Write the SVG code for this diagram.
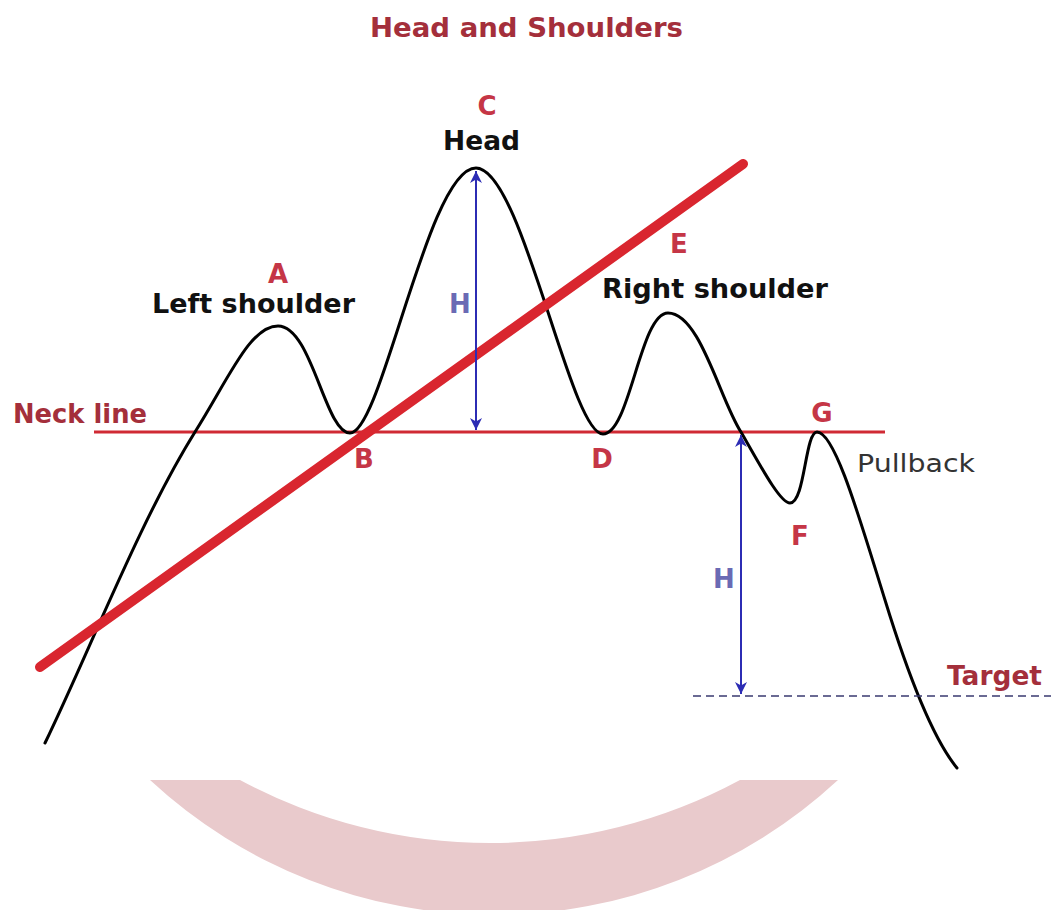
<svg xmlns="http://www.w3.org/2000/svg" width="1051" height="910" viewBox="0 0 1051 910">
<style>
.lbl{font-family:"DejaVu Sans","Liberation Sans",sans-serif;font-weight:bold;font-size:26px;fill:#c53646;text-anchor:middle}
.dark{font-family:"DejaVu Sans","Liberation Sans",sans-serif;font-weight:bold;font-size:26px;fill:#a42f3b}
.blk{font-family:"DejaVu Sans","Liberation Sans",sans-serif;font-weight:bold;font-size:27px;fill:#111}
.hh{font-family:"DejaVu Sans","Liberation Sans",sans-serif;font-weight:bold;font-size:26px;fill:#6a6ab4;text-anchor:middle}
.curve{fill:none;stroke:#000;stroke-width:3;stroke-linecap:round;stroke-linejoin:round}
.arrow{stroke:#2c2cb4;stroke-width:2;fill:none;marker-start:url(#ah);marker-end:url(#ah)}
</style>
<defs>
<marker id="ah" viewBox="0 0 10 10" refX="10" refY="5" markerWidth="6" markerHeight="6" markerUnits="strokeWidth" orient="auto-start-reverse">
<path d="M0,0 L10,5 L0,10 L3,5 Z" fill="#2c2cb4"/>
</marker>
</defs>
<rect width="1051" height="910" fill="#fff"/>
<g id="watermark">
<path d="M150,780 A506,506 0 0 0 838,780 L740,780 A527,527 0 0 1 240,780 Z" fill="#e9cacc"/>
</g>
<g id="title">
<text class="dark" x="370" y="37" font-size="24" textLength="313" lengthAdjust="spacingAndGlyphs">Head and Shoulders</text>
</g>
<g id="connectors">
<line id="neckline" x1="94" y1="432" x2="885" y2="432" stroke="#d02a34" stroke-width="3"/>
<path id="price" class="curve" d="M45,743 C90,650 140,520 195,432 C229,378 250,326 278,326 C312,326 325,433 350,433 C382,433 428,168 476,168 C522,168 570,434 603,434 C630,434 640,313 668,313 C700,313 720,400 741,432 C760,465 780,503 790,503 C805,503 805,432 817,432 C835,432 860,520 885,600 C905,665 930,735 957,768"/>
<line id="trend" x1="40" y1="667" x2="743" y2="164" stroke="#d9262f" stroke-width="10" stroke-linecap="round"/>
<line class="arrow" x1="476" y1="171" x2="476" y2="430"/>
<line class="arrow" x1="741" y1="435" x2="741" y2="694"/>
<line id="target-line" x1="693" y1="696" x2="1051" y2="696" stroke="#3a3a70" stroke-width="1.5" stroke-dasharray="8,5"/>
</g>
<g id="node-C"><text class="lbl" x="487" y="115">C</text><text class="blk" x="443" y="150" textLength="77" lengthAdjust="spacingAndGlyphs">Head</text></g>
<g id="node-A"><text class="lbl" x="278" y="283">A</text><text class="blk" x="152" y="313" textLength="203" lengthAdjust="spacingAndGlyphs">Left shoulder</text></g>
<g id="node-E"><text class="lbl" x="679" y="253">E</text><text class="blk" x="602" y="298" textLength="226" lengthAdjust="spacingAndGlyphs">Right shoulder</text></g>
<g id="node-H1"><text class="hh" x="460" y="313">H</text></g>
<g id="node-neck"><text class="dark" x="13" y="423" textLength="134" lengthAdjust="spacingAndGlyphs">Neck line</text></g>
<g id="node-B"><text class="lbl" x="364" y="468">B</text></g>
<g id="node-D"><text class="lbl" x="602" y="468">D</text></g>
<g id="node-G"><text class="lbl" x="822" y="422">G</text></g>
<g id="node-pullback"><text x="857" y="472" font-family="DejaVu Sans, Liberation Sans, sans-serif" font-size="25" fill="#333" textLength="118" lengthAdjust="spacingAndGlyphs">Pullback</text></g>
<g id="node-F"><text class="lbl" x="800" y="545">F</text></g>
<g id="node-H2"><text class="hh" x="724" y="588">H</text></g>
<g id="node-target"><text class="dark" x="947" y="685" textLength="95" lengthAdjust="spacingAndGlyphs">Target</text></g>
</svg>
